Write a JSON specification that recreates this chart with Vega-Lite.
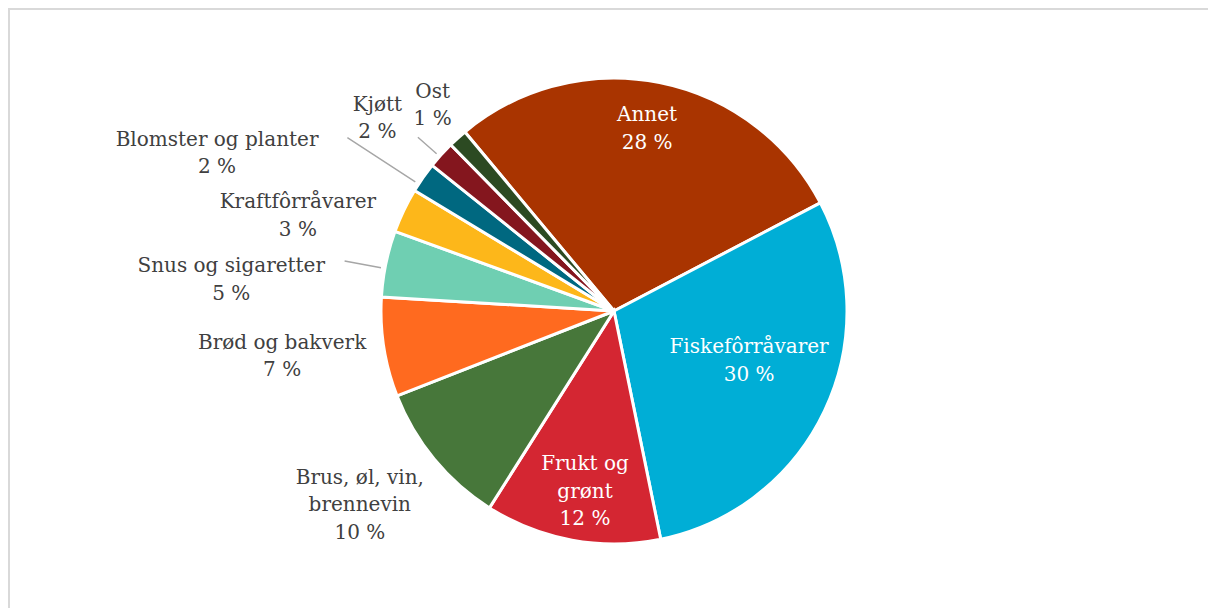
{
  "$schema": "https://vega.github.io/schema/vega-lite/v6.json",
  "width": 1210,
  "height": 604,
  "autosize": "none",
  "padding": {"left": 9, "top": 9, "right": -11, "bottom": -5},
  "background": "white",
  "view": {"stroke": "#d9d9d9", "strokeWidth": 2},
  "data": {
    "values": [
      {"category": "Annet", "share": 28.4, "order": 1, "label": "Annet\n28 %"},
      {"category": "Fiskefôrråvarer", "share": 29.5, "order": 2, "label": "Fiskefôrråvarer\n30 %"},
      {"category": "Frukt og grønt", "share": 12.2, "order": 3, "label": "Frukt og\ngrønt\n12 %"},
      {"category": "Brus, øl, vin, brennevin", "share": 10.1, "order": 4, "label": "Brus, øl, vin,\nbrennevin\n10 %"},
      {"category": "Brød og bakverk", "share": 6.9, "order": 5, "label": "Brød og bakverk\n7 %"},
      {"category": "Snus og sigaretter", "share": 4.6, "order": 6, "label": "Snus og sigaretter\n5 %"},
      {"category": "Kraftfôrråvarer", "share": 3.1, "order": 7, "label": "Kraftfôrråvarer\n3 %"},
      {"category": "Blomster og planter", "share": 2.1, "order": 8, "label": "Blomster og planter\n2 %"},
      {"category": "Kjøtt", "share": 1.9, "order": 9, "label": "Kjøtt\n2 %"},
      {"category": "Ost", "share": 1.3, "order": 10, "label": "Ost\n1 %"}
    ]
  },
  "encoding": {
    "theta": {"field": "share", "type": "quantitative", "stack": true, "scale": {"range": [-0.6946, 5.5886]}},
    "order": {"field": "order", "type": "quantitative"}
  },
  "layer": [
    {
      "mark": {"type": "arc", "radius": 233, "stroke": "white", "strokeWidth": 3},
      "encoding": {
        "color": {
          "field": "category", "type": "nominal", "legend": null,
          "scale": {
            "domain": ["Annet", "Fiskefôrråvarer", "Frukt og grønt", "Brus, øl, vin, brennevin", "Brød og bakverk", "Snus og sigaretter", "Kraftfôrråvarer", "Blomster og planter", "Kjøtt", "Ost"],
            "range": ["#A93400", "#00AED6", "#D42632", "#47773A", "#FF6A1F", "#6FCFB2", "#FDB71A", "#006880", "#84161E", "#2C4A22"]
          }
        }
      }
    },
    {
      "mark": {"type": "arc", "radius": 318, "radius2": 237, "padAngle": 1.5, "thetaOffset": -0.033, "fill": "transparent", "stroke": "#a6a6a6", "strokeWidth": 1.4},
      "encoding": {"strokeOpacity": {"condition": {"test": "datum.category === 'Blomster og planter'", "value": 1}, "value": 0}}
    },
    {
      "mark": {"type": "arc", "radius": 274, "radius2": 237, "padAngle": 1.5, "thetaOffset": -0.021, "fill": "transparent", "stroke": "#a6a6a6", "strokeWidth": 1.4},
      "encoding": {"strokeOpacity": {"condition": {"test": "datum.category === 'Snus og sigaretter'", "value": 1}, "value": 0}}
    },
    {
      "mark": {"type": "arc", "radius": 262, "radius2": 237, "padAngle": 1.5, "thetaOffset": -0.01, "fill": "transparent", "stroke": "#a6a6a6", "strokeWidth": 1.4},
      "encoding": {"strokeOpacity": {"condition": {"test": "datum.category === 'Kjøtt'", "value": 1}, "value": 0}}
    },
    {
      "mark": {"type": "text", "radius": 185, "thetaOffset": -0.017, "dy": -13.75, "font": "DejaVu Serif", "fontSize": 20, "lineHeight": 27.5, "lineBreak": "\n", "fill": "white", "align": "center", "baseline": "middle"},
      "encoding": {"text": {"field": "label"}, "opacity": {"condition": {"test": "datum.category === 'Annet'", "value": 1}, "value": 0}}
    },
    {
      "mark": {"type": "text", "radius": 144, "thetaOffset": -0.089, "dy": -13.75, "font": "DejaVu Serif", "fontSize": 20, "lineHeight": 27.5, "lineBreak": "\n", "fill": "white", "align": "center", "baseline": "middle"},
      "encoding": {"text": {"field": "label"}, "opacity": {"condition": {"test": "datum.category === 'Fiskefôrråvarer'", "value": 1}, "value": 0}}
    },
    {
      "mark": {"type": "text", "radius": 183, "thetaOffset": -0.022, "dy": -27.5, "font": "DejaVu Serif", "fontSize": 20, "lineHeight": 27.5, "lineBreak": "\n", "fill": "white", "align": "center", "baseline": "middle"},
      "encoding": {"text": {"field": "label"}, "opacity": {"condition": {"test": "datum.category === 'Frukt og grønt'", "value": 1}, "value": 0}}
    },
    {
      "mark": {"type": "text", "radius": 320, "thetaOffset": 0.037, "dy": -27.5, "font": "DejaVu Serif", "fontSize": 20, "lineHeight": 27.5, "lineBreak": "\n", "fill": "#404040", "align": "center", "baseline": "middle"},
      "encoding": {"text": {"field": "label"}, "opacity": {"condition": {"test": "datum.category === 'Brus, øl, vin, brennevin'", "value": 1}, "value": 0}}
    },
    {
      "mark": {"type": "text", "radius": 335, "thetaOffset": 0.02, "dy": -13.75, "font": "DejaVu Serif", "fontSize": 20, "lineHeight": 27.5, "lineBreak": "\n", "fill": "#404040", "align": "center", "baseline": "middle"},
      "encoding": {"text": {"field": "label"}, "opacity": {"condition": {"test": "datum.category === 'Brød og bakverk'", "value": 1}, "value": 0}}
    },
    {
      "mark": {"type": "text", "radius": 384, "thetaOffset": -0.124, "dy": -13.75, "font": "DejaVu Serif", "fontSize": 20, "lineHeight": 27.5, "lineBreak": "\n", "fill": "#404040", "align": "center", "baseline": "middle"},
      "encoding": {"text": {"field": "label"}, "opacity": {"condition": {"test": "datum.category === 'Snus og sigaretter'", "value": 1}, "value": 0}}
    },
    {
      "mark": {"type": "text", "radius": 330, "thetaOffset": -0.155, "dy": -13.75, "font": "DejaVu Serif", "fontSize": 20, "lineHeight": 27.5, "lineBreak": "\n", "fill": "#404040", "align": "center", "baseline": "middle"},
      "encoding": {"text": {"field": "label"}, "opacity": {"condition": {"test": "datum.category === 'Kraftfôrråvarer'", "value": 1}, "value": 0}}
    },
    {
      "mark": {"type": "text", "radius": 427, "thetaOffset": -0.232, "dy": -13.75, "font": "DejaVu Serif", "fontSize": 20, "lineHeight": 27.5, "lineBreak": "\n", "fill": "#404040", "align": "center", "baseline": "middle"},
      "encoding": {"text": {"field": "label"}, "opacity": {"condition": {"test": "datum.category === 'Blomster og planter'", "value": 1}, "value": 0}}
    },
    {
      "mark": {"type": "text", "radius": 305, "thetaOffset": -0.052, "dy": -13.75, "font": "DejaVu Serif", "fontSize": 20, "lineHeight": 27.5, "lineBreak": "\n", "fill": "#404040", "align": "center", "baseline": "middle"},
      "encoding": {"text": {"field": "label"}, "opacity": {"condition": {"test": "datum.category === 'Kjøtt'", "value": 1}, "value": 0}}
    },
    {
      "mark": {"type": "text", "radius": 274, "thetaOffset": 0.012, "dy": -13.75, "font": "DejaVu Serif", "fontSize": 20, "lineHeight": 27.5, "lineBreak": "\n", "fill": "#404040", "align": "center", "baseline": "middle"},
      "encoding": {"text": {"field": "label"}, "opacity": {"condition": {"test": "datum.category === 'Ost'", "value": 1}, "value": 0}}
    }
  ]
}
